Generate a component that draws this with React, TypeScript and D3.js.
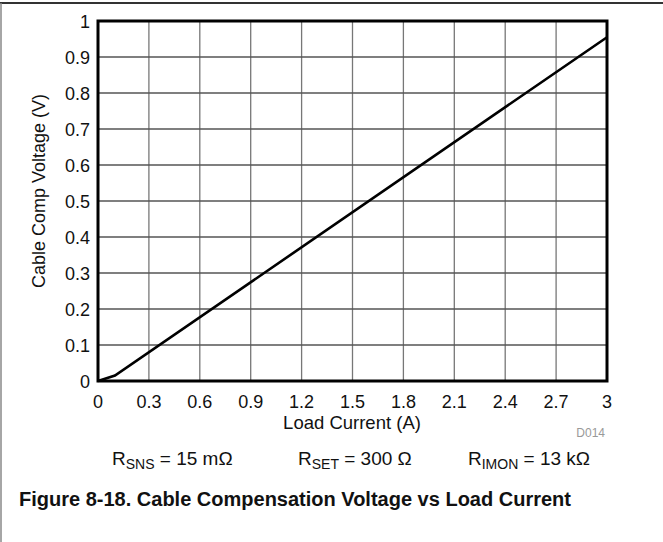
import * as d3 from "d3";
import { useEffect, useRef } from "react";

// Load current (A) vs cable comp voltage (V)
const currentA = [0, 0.1, 3];
const voltageV = [0, 0.015, 0.955];
const xTicks = [0, 0.3, 0.6, 0.9, 1.2, 1.5, 1.8, 2.1, 2.4, 2.7, 3];
const yTicks = [0, 0.1, 0.2, 0.3, 0.4, 0.5, 0.6, 0.7, 0.8, 0.9, 1];
const conditions = [
  { main: "R", sub: "SNS", rest: " = 15 mΩ" },
  { main: "R", sub: "SET", rest: " = 300 Ω" },
  { main: "R", sub: "IMON", rest: " = 13 kΩ" },
];

export default function App() {
  const ref = useRef<SVGSVGElement>(null);

  useEffect(() => {
    if (!ref.current) return;
    const svg = d3.select(ref.current);
    svg.selectAll("*").remove();

    const W = 663,
      H = 542;
    const left = 98,
      right = 607,
      top = 21,
      bottom = 381;
    const font = "Liberation Sans, Arial, sans-serif";

    // page frame
    svg.append("line").attr("x1", 0).attr("x2", W).attr("y1", 3).attr("y2", 3)
      .attr("stroke", "#333").attr("stroke-width", 2);
    svg.append("line").attr("x1", 1).attr("x2", 1).attr("y1", 3).attr("y2", H)
      .attr("stroke", "#888").attr("stroke-width", 1.5);

    const x = d3.scaleLinear().domain([0, 3]).range([left, right]);
    const y = d3.scaleLinear().domain([0, 1]).range([bottom, top]);

    const g = svg.append("g");

    // grid
    g.selectAll(".vg").data(xTicks.slice(1, -1)).enter().append("line")
      .attr("x1", (d) => x(d)).attr("x2", (d) => x(d))
      .attr("y1", top).attr("y2", bottom)
      .attr("stroke", "#777").attr("stroke-width", 1.3);
    g.selectAll(".hg").data(yTicks.slice(1, -1)).enter().append("line")
      .attr("x1", left).attr("x2", right)
      .attr("y1", (d) => y(d)).attr("y2", (d) => y(d))
      .attr("stroke", "#555").attr("stroke-width", 1.3);

    // data line
    const line = d3.line<number>()
      .x((d) => x(d))
      .y((_, i) => y(voltageV[i]));
    g.append("path").datum(currentA).attr("d", line)
      .attr("fill", "none").attr("stroke", "#000").attr("stroke-width", 2.6);

    // frame
    g.append("rect").attr("x", left).attr("y", top)
      .attr("width", right - left).attr("height", bottom - top)
      .attr("fill", "none").attr("stroke", "#000").attr("stroke-width", 3);

    // tick labels
    g.selectAll(".xt").data(xTicks).enter().append("text")
      .attr("x", (d) => x(d)).attr("y", 408)
      .attr("text-anchor", "middle").attr("font-family", font).attr("font-size", 18)
      .attr("fill", "#111")
      .text((d) => d3.format("~g")(d));
    g.selectAll(".yt").data(yTicks).enter().append("text")
      .attr("x", 90).attr("y", (d) => y(d) + 6.5)
      .attr("text-anchor", "end").attr("font-family", font).attr("font-size", 18)
      .attr("fill", "#111")
      .text((d) => d3.format("~g")(d));

    // axis titles
    svg.append("text").attr("x", 352).attr("y", 429)
      .attr("text-anchor", "middle").attr("font-family", font).attr("font-size", 18.5)
      .attr("fill", "#111").text("Load Current (A)");
    svg.append("text")
      .attr("transform", `translate(45,${(top + bottom) / 2 - 10}) rotate(-90)`)
      .attr("text-anchor", "middle").attr("font-family", font).attr("font-size", 18)
      .attr("fill", "#111").text("Cable Comp Voltage (V)");
    svg.append("text").attr("x", 605).attr("y", 437)
      .attr("text-anchor", "end").attr("font-family", font).attr("font-size", 12)
      .attr("fill", "#999").text("D014");

    // conditions
    const condX = [112, 298, 468];
    conditions.forEach((c, i) => {
      const t = svg.append("text").attr("x", condX[i]).attr("y", 465)
        .attr("font-family", font).attr("font-size", 19).attr("fill", "#111");
      t.append("tspan").text(c.main);
      t.append("tspan").attr("font-size", 14).attr("dy", 4).text(c.sub);
      t.append("tspan").attr("dy", -4).text(c.rest);
    });

    // figure caption
    svg.append("text").attr("x", 295).attr("y", 506)
      .attr("text-anchor", "middle").attr("font-family", font).attr("font-size", 20)
      .attr("font-weight", "bold").attr("fill", "#111")
      .text("Figure 8-18. Cable Compensation Voltage vs Load Current");
  }, []);

  return (
    <svg
      ref={ref}
      width={663}
      height={542}
      style={{ position: "absolute", left: 0, top: 0, background: "#fff" }}
    />
  );
}
